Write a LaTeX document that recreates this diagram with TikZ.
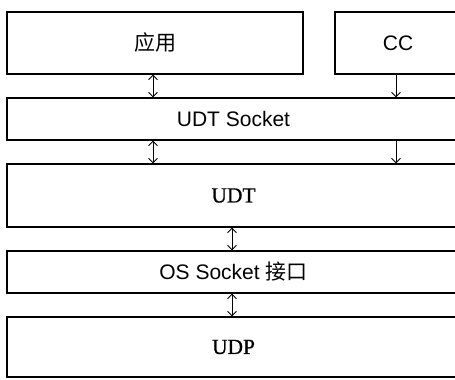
\documentclass[tikz,border=0pt]{standalone}
\usepackage{fontspec}
\setmainfont[FakeBold=0.8,AutoFakeBold=0.8]{Liberation Serif}
\setsansfont{Liberation Sans}
\newfontfamily\cjk{Noto Sans CJK SC}
\usetikzlibrary{arrows.meta}
\begin{document}
\begin{tikzpicture}[x=1bp,y=-1bp,
  layer/.style={draw=black,line width=1.3bp,inner sep=0pt,anchor=center},
  sanslbl/.style={font=\sffamily\fontsize{21bp}{25bp}\selectfont},
  seriflbl/.style={font=\rmfamily\fontsize{21.5bp}{25bp}\selectfont},
  conn/.style={line width=0.8bp,{Straight Barb[length=4.5bp,width=9bp]}-{Straight Barb[length=4.5bp,width=9bp]}},
  down/.style={line width=0.8bp,-{Straight Barb[length=4.5bp,width=9bp]}}]
\useasboundingbox (0,0) rectangle (455,379);
\clip (0,0) rectangle (455,379);
\node[layer,sanslbl,minimum width=296bp,minimum height=62bp] (app) at (155,43) {\cjk 应用};
\node[layer,sanslbl,minimum width=126bp,minimum height=62bp] (cc) at (398,43) {CC};
\node[layer,sanslbl,minimum width=453bp,minimum height=42bp] (udts) at (233.5,119) {UDT Socket};
\node[layer,seriflbl,minimum width=453bp,minimum height=63bp] (udt) at (233.5,195.5) {UDT};
\node[layer,sanslbl,minimum width=453bp,minimum height=42bp] (os) at (233.5,272) {OS Socket {\cjk 接口}};
\node[layer,seriflbl,minimum width=453bp,minimum height=60bp] (udp) at (233.5,347) {UDP};
\coordinate (xl) at (153,0);
\coordinate (xr) at (396,0);
\coordinate (xm) at (232,0);
\draw[conn] (app.south -| xl) -- (udts.north -| xl);
\draw[down] (cc.south -| xr) -- (udts.north -| xr);
\draw[conn] (udts.south -| xl) -- (udt.north -| xl);
\draw[down] (udts.south -| xr) -- (udt.north -| xr);
\draw[conn] (udt.south -| xm) -- (os.north -| xm);
\draw[conn] (os.south -| xm) -- (udp.north -| xm);
\end{tikzpicture}
\end{document}
